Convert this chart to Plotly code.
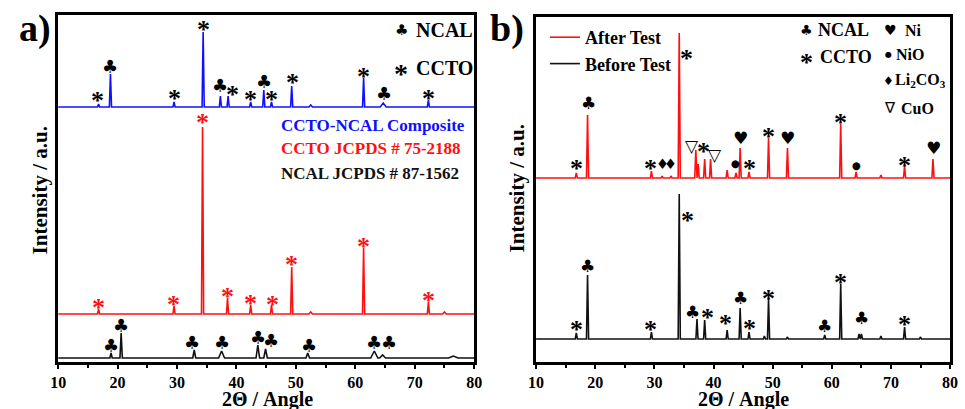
import plotly.graph_objects as go

# ---------------- Panel a data (intensity in arbitrary units) ----------------
a_comp_base = 255
a_comp_pos = [16.8, 18.8, 29.5, 34.4, 37.3, 38.6, 42.4, 44.6, 45.9, 49.3, 52.5, 61.4, 64.7, 72.3]
a_comp_h   = [3, 33, 5, 75, 11, 11, 5, 17, 5, 21, 2, 29, 4, 7]
a_comp_w   = [0.18, 0.18, 0.18, 0.18, 0.18, 0.18, 0.18, 0.18, 0.18, 0.18, 0.3, 0.18, 0.5, 0.18]

a_ccto_base = 48
a_ccto_pos = [16.8, 29.5, 34.3, 38.5, 42.4, 45.9, 49.3, 52.5, 61.4, 72.3, 75.0]
a_ccto_h   = [5, 8, 187, 16, 9, 9, 47, 2, 66, 12, 2]
a_ccto_w   = [0.18, 0.18, 0.18, 0.18, 0.18, 0.18, 0.18, 0.3, 0.18, 0.18, 0.3]

a_ncal_base = 4
a_ncal_pos = [18.9, 20.6, 32.9, 37.5, 43.6, 44.9, 52.0, 63.2, 64.6, 76.5]
a_ncal_h   = [5, 25, 8, 7, 13, 9, 5, 7, 3, 2]
a_ncal_w   = [0.2, 0.2, 0.25, 0.5, 0.3, 0.3, 0.3, 0.6, 0.5, 0.8]

# symbol labels: (2theta, intensity, symbol)
a_comp_sym_x = [16.6, 18.8, 29.5, 34.5, 37.3, 39.3, 42.4, 44.7, 45.9, 49.4, 61.4, 64.9, 72.3]
a_comp_sym_y = [267, 296, 269, 338, 277, 273, 268, 281, 268, 285, 291, 269, 269]
a_comp_sym   = ["*", "♣", "*", "*", "♣", "*", "*", "♣", "*", "*", "*", "♣", "*"]

a_ccto_sym_x = [16.8, 29.4, 34.3, 38.5, 42.4, 46.1, 49.3, 61.4, 72.4]
a_ccto_sym_y = [60, 63, 245, 71, 64, 63, 103, 121, 67]
a_ccto_sym   = ["*"] * 9

a_ncal_sym_x = [18.9, 20.6, 32.5, 37.5, 43.6, 45.9, 52.2, 63.1, 65.6]
a_ncal_sym_y = [17, 37, 20, 20, 25, 22, 17, 20, 20]
a_ncal_sym   = ["♣"] * 9

# ---------------- Panel b data ----------------
b_after_base = 184
b_after_pos = [16.8, 18.7, 29.5, 31.3, 32.8, 34.2, 37.0, 37.4, 38.5, 39.5, 42.3, 43.8,
               44.5, 46.0, 49.3, 52.5, 61.5, 64.1, 68.3, 72.3, 77.1]
b_after_h   = [5, 63, 7, 2, 2, 145, 28, 14, 19, 19, 8, 5, 30, 6, 40, 30, 54, 6, 3, 12, 19]

b_before_base = 23
b_before_pos = [16.8, 18.7, 29.5, 34.2, 37.2, 38.5, 42.3, 44.5, 46.0, 48.6, 49.3, 52.5,
                58.8, 61.5, 64.6, 65.0, 68.3, 72.3, 75.0]
b_before_h   = [6, 64, 7, 145, 20, 19, 9, 31, 7, 3, 40, 2, 4, 55, 5, 5, 3, 12, 2]

b_after_sym_x = [16.8, 18.8, 29.4, 31.3, 32.8, 35.5, 36.3, 38.3, 40.3, 43.7, 44.5, 46.0,
                 49.3, 52.5, 61.5, 64.1, 72.3, 77.2]
b_after_sym_y = [199, 259, 199, 198, 198, 309, 216, 216, 207, 199, 224, 199,
                 231, 224, 245, 197, 202, 214]
b_after_sym   = ["*", "♣", "*", "♦", "♦", "*", "▽", "*", "▽", "●", "♥", "*",
                 "*", "♥", "*", "●", "*", "♥"]

b_before_sym_x = [16.8, 18.7, 29.4, 35.6, 36.5, 39.0, 42.0, 44.5, 46.0, 49.3, 58.8, 61.5, 65.0, 72.3]
b_before_sym_y = [38, 96, 38, 147, 50, 50, 44, 64, 39, 69, 36, 85, 44, 43]
b_before_sym   = ["*", "♣", "*", "*", "♣", "*", "*", "♣", "*", "*", "♣", "*", "♣", "*"]

x_ticks = [10, 20, 30, 40, 50, 60, 70, 80]

# ---------------- helpers ----------------
W, H = 965, 409
SERIF = '"Liberation Serif", "Times New Roman", Times, serif'
SYMF = '"DejaVu Sans"'


def profile(base, pos, h, w=None):
    if w is None:
        w = [0.18] * len(pos)
    xs, ys = [10.0], [base]
    for p, hh, ww in sorted(zip(pos, h, w)):
        xs += [p - ww, p, p + ww]
        ys += [base, base + hh, base]
    xs.append(80.0)
    ys.append(base)
    return xs, ys


def px(x):
    return x / W


def py(y):
    return 1 - y / H


fig = go.Figure()

for (base, pos, h, w, col, name, xa, ya, show) in [
    (a_comp_base, a_comp_pos, a_comp_h, a_comp_w, "#1010ff", "CCTO-NCAL Composite", "x", "y", False),
    (a_ccto_base, a_ccto_pos, a_ccto_h, a_ccto_w, "#ff1010", "CCTO", "x", "y", False),
    (a_ncal_base, a_ncal_pos, a_ncal_h, a_ncal_w, "#111111", "NCAL", "x", "y", False),
    (b_after_base, b_after_pos, b_after_h, None, "#ff1010", "After Test", "x2", "y2", True),
    (b_before_base, b_before_pos, b_before_h, None, "#111111", "Before Test", "x2", "y2", True),
]:
    xs, ys = profile(base, pos, h, w)
    fig.add_trace(go.Scatter(x=xs, y=ys, mode="lines", name=name,
                             line=dict(color=col, width=1.6),
                             xaxis=xa, yaxis=ya, showlegend=show, hoverinfo="skip"))

annotations = []


def add_syms(xs, ys, syms, xref, yref, color, star_size, club_size):
    for x, y, s in zip(xs, ys, syms):
        if s == "*":
            annotations.append(dict(x=x, y=y, xref=xref, yref=yref, text="<b>*</b>", showarrow=False,
                                    font=dict(family=SERIF, size=star_size, color=color),
                                    yanchor="middle", xanchor="center", yshift=-star_size * 0.22))
        else:
            sz = club_size
            if s == "●":
                sz = club_size * 0.6
            elif s == "♦":
                sz = club_size * 0.85
            annotations.append(dict(x=x, y=y, xref=xref, yref=yref, text=s, showarrow=False,
                                    font=dict(family=SYMF, size=sz, color=color),
                                    yanchor="middle", xanchor="center"))


add_syms(a_comp_sym_x, a_comp_sym_y, a_comp_sym, "x", "y", "black", 26, 18)
add_syms(a_ccto_sym_x, a_ccto_sym_y, a_ccto_sym, "x", "y", "#ff1010", 26, 18)
add_syms(a_ncal_sym_x, a_ncal_sym_y, a_ncal_sym, "x", "y", "black", 26, 18)
add_syms(b_after_sym_x, b_after_sym_y, b_after_sym, "x2", "y2", "black", 26, 17)
add_syms(b_before_sym_x, b_before_sym_y, b_before_sym, "x2", "y2", "black", 26, 17)


def txt(x, y, text, size, color="black", xanchor="left", family=SERIF, bold=True, angle=0):
    annotations.append(dict(x=px(x), y=py(y), xref="paper", yref="paper",
                            text=("<b>%s</b>" % text) if bold else text, showarrow=False,
                            font=dict(family=family, size=size, color=color),
                            xanchor=xanchor, yanchor="middle", textangle=angle))


# panel labels
txt(27, 29, "a)", 38, xanchor="center")
txt(507, 29, "b)", 38, xanchor="center")

# axis titles
txt(264, 399, "2Θ / Angle", 20, xanchor="center")
txt(748, 399, "2Θ / Angle", 20, xanchor="center")
txt(33, 190, "Intensity / a.u.", 21, xanchor="center", angle=-90)
txt(518, 188, "Intensity / a.u.", 21, xanchor="center", angle=-90)

# panel a keys
txt(400, 30, "♣", 15, xanchor="center", family=SYMF, bold=False)
txt(413, 30, "NCAL", 20)
txt(400, 73, "*", 28, xanchor="center")
txt(413, 68, "CCTO", 20)
txt(276, 125, "CCTO-NCAL Composite", 17, color="#1010ff")
txt(276, 149, "CCTO JCPDS # 75-2188", 17, color="#ff1010")
txt(276, 173, "NCAL JCPDS # 87-1562", 17, color="#111111")

# panel b keys
txt(812, 30, "♣", 14, xanchor="center", family=SYMF, bold=False)
txt(822, 30, "NCAL", 18)
txt(812, 62, "*", 26, xanchor="center")
txt(824, 57, "CCTO", 18)
txt(897, 30, "♥", 14, xanchor="center", family=SYMF, bold=False)
txt(910, 30, "Ni", 16)
txt(895, 54, "●", 8, xanchor="center", family=SYMF, bold=False)
txt(901, 54, "NiO", 16)
txt(895, 81, "♦", 12, xanchor="center", family=SYMF, bold=False)
txt(900, 81, "Li<sub>2</sub>CO<sub>3</sub>", 16)
txt(897, 108, "∇", 15, xanchor="center", family=SYMF, bold=False)
txt(906, 108, "CuO", 16)

axis_common = dict(range=[10, 80], showline=True, linecolor="black", linewidth=2.5, mirror=True,
                   ticks="outside", ticklen=4, tickwidth=1.5, tickcolor="black",
                   tickvals=x_ticks, ticktext=[str(v) for v in x_ticks],
                   tickfont=dict(family=SERIF, size=16, color="black", weight="bold"),
                   minor=dict(ticks="outside", ticklen=3, tickwidth=1.5, tickcolor="black", dtick=5, tick0=5),
                   showgrid=False, zeroline=False)
yaxis_common = dict(showline=True, linecolor="black", linewidth=2.5, mirror=True, ticks="",
                    showticklabels=False, showgrid=False, zeroline=False)

fig.update_layout(
    width=W, height=H, margin=dict(l=0, r=0, t=0, b=0),
    paper_bgcolor="white", plot_bgcolor="white",
    font=dict(family=SERIF),
    xaxis=dict(domain=[px(51), px(474)], anchor="y", **axis_common),
    yaxis=dict(domain=[py(362), py(15)], anchor="x", range=[0, 347], **yaxis_common),
    xaxis2=dict(domain=[px(537), px(958)], anchor="y2", **axis_common),
    yaxis2=dict(domain=[py(362), py(17)], anchor="x2", range=[0, 345], **yaxis_common),
    legend=dict(x=px(546), y=py(19), xanchor="left", yanchor="top", bgcolor="rgba(0,0,0,0)",
                font=dict(family=SERIF, size=18, color="black", weight="bold"),
                tracegroupgap=0, itemwidth=30),
    annotations=annotations,
)

fig.write_html("out.html")
